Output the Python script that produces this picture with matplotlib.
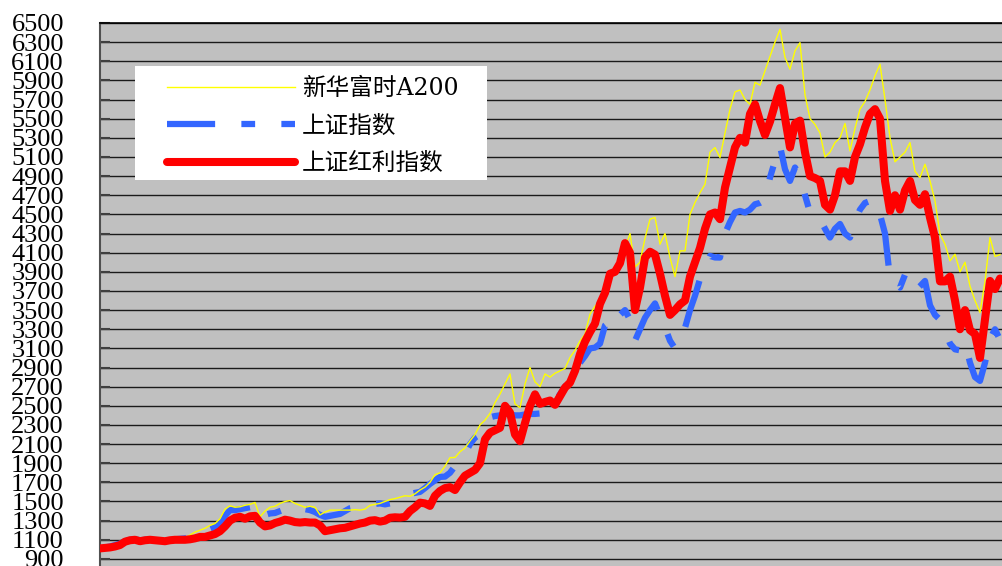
import numpy as np
import matplotlib
matplotlib.use("Agg")
import matplotlib.pyplot as plt
from matplotlib.patches import Rectangle

# 周序号 (0..180), 三个指数的走势
weeks = np.arange(181)

a200 = [1010, 1020, 1035, 1045, 1060, 1090, 1100, 1105, 1100, 1100,
        1105, 1100, 1095, 1095, 1100, 1105, 1110, 1120, 1150, 1180,
        1200, 1220, 1250, 1270, 1320, 1420, 1455, 1440, 1445, 1460,
        1470, 1490, 1340, 1400, 1440, 1450, 1480, 1500, 1510, 1480,
        1460, 1440, 1450, 1440, 1360, 1390, 1410, 1410, 1410, 1410,
        1410, 1415, 1410, 1420, 1460, 1470, 1480, 1500, 1520, 1530,
        1545, 1560, 1555, 1580, 1620, 1650, 1700, 1780, 1800, 1870,
        1958, 1960, 2020, 2060, 2133, 2200, 2300, 2350, 2420, 2533,
        2623, 2728, 2833, 2520, 2480, 2728, 2900, 2750, 2700, 2833,
        2800, 2840, 2865, 2890, 3005, 3080, 3178, 3250, 3457, 3540,
        3600, 3700, 3800, 3900, 3980, 4150, 4300, 3950, 4000, 4250,
        4450, 4470, 4188, 4300, 4049, 3850, 4119, 4119, 4500, 4624,
        4727, 4815, 5150, 5198, 5094, 5350, 5600, 5780, 5800, 5700,
        5650, 5880, 5850, 6000, 6150, 6300, 6435, 6139, 6017, 6208,
        6295, 5750, 5500, 5440, 5350, 5100, 5150, 5250, 5300, 5450,
        5163, 5400, 5600, 5680, 5800, 5950, 6069, 5700, 5300, 5050,
        5100, 5150, 5250, 4950, 4885, 5024, 4850, 4641, 4293, 4188,
        4014, 4084, 3900, 4000, 3750, 3600, 3474, 3800, 4258, 4060,
        4080]

shanghai = [1010, 1020, 1030, 1045, 1060, 1085, 1100, 1105, 1095, 1100,
            1105, 1100, 1095, 1095, 1100, 1105, 1110, 1115, 1130, 1170,
            1190, 1200, 1210, 1230, 1260, 1350, 1410, 1410, 1420, 1430,
            1440, 1450, 1330, 1360, 1375, 1380, 1400, 1420, 1440, 1450,
            1450, 1420, 1410, 1390, 1360, 1340, 1350, 1360, 1370, 1400,
            1430, 1440, 1450, 1460, 1470, 1475, 1480, 1470, 1480, 1500,
            1520, 1560, 1580, 1590, 1600, 1640, 1684, 1720, 1757, 1760,
            1800, 1870, 1945, 2000, 2100, 2168, 2200, 2310, 2380, 2393,
            2400, 2420, 2410, 2400, 2400, 2410, 2415, 2415, 2420, 2440,
            2480, 2550, 2620, 2700, 2780, 2870, 2950, 3020, 3100, 3108,
            3150, 3340, 3380, 3330, 3450, 3500, 3400, 3180, 3300, 3420,
            3500, 3570, 3440, 3320, 3180, 3100, 3200, 3315, 3500, 3650,
            3826, 3950, 4066, 4050, 4049, 4300, 4420, 4520, 4536, 4520,
            4550, 4606, 4620, 4650, 4885, 5059, 5216, 4972, 4850, 4990,
            4902, 4700, 4520, 4480, 4450, 4350, 4258, 4350, 4400, 4300,
            4258, 4432, 4550, 4620, 4640, 4650, 4500, 4300, 3830, 3780,
            3735, 3870, 3750, 3700, 3750, 3805, 3550, 3450, 3400, 3282,
            3150, 3090, 3080, 3160, 2950, 2800, 2760, 2950, 3200, 3300,
            3190]

dividend = [1010, 1015, 1020, 1030, 1045, 1080, 1095, 1100, 1085, 1095,
            1100, 1095, 1090, 1085, 1095, 1100, 1100, 1100, 1105, 1115,
            1130, 1130, 1145, 1160, 1190, 1240, 1300, 1330, 1340, 1320,
            1345, 1350, 1280, 1240, 1250, 1275, 1290, 1310, 1300, 1285,
            1280, 1285, 1280, 1280, 1250, 1190, 1200, 1210, 1220, 1225,
            1240, 1255, 1270, 1280, 1300, 1305, 1290, 1300, 1330, 1335,
            1332, 1340, 1400, 1440, 1488, 1480, 1454, 1560, 1610, 1640,
            1650, 1620, 1700, 1770, 1800, 1830, 1900, 2150, 2220, 2245,
            2270, 2500, 2430, 2200, 2130, 2320, 2500, 2620, 2520, 2540,
            2555, 2510, 2600, 2690, 2742, 2865, 3040, 3170, 3270, 3360,
            3565, 3680, 3880, 3900, 3990, 4200, 4100, 3500, 3735, 4049,
            4110, 4080, 3880, 3650, 3450, 3500, 3560, 3600, 3850, 4000,
            4150, 4350, 4500, 4520, 4450, 4780, 4990, 5200, 5300, 5250,
            5550, 5650, 5476, 5330, 5470, 5650, 5820, 5511, 5200, 5450,
            5480, 5150, 4900, 4880, 4850, 4600, 4550, 4700, 4950, 4950,
            4850, 5100, 5233, 5407, 5550, 5600, 5500, 4850, 4536, 4700,
            4550, 4750, 4850, 4650, 4600, 4711, 4467, 4258, 3800, 3800,
            3850, 3600, 3300, 3500, 3290, 3250, 3000, 3400, 3805, 3720,
            3830]

names = ['新华富时A200', '上证指数', '上证红利指数']
yticks = np.arange(900, 6501, 200)

W, H = 1002, 566
fig = plt.figure(figsize=(W / 100, H / 100), dpi=100)
ax = fig.add_axes([100 / W, 0, 1 - 100 / W, (H - 23) / H])
ax.set_facecolor('#C0C0C0')

ax.plot(weeks, a200, color='#FFFF00', lw=1.0, label=names[0], zorder=3)
ax.plot(weeks, shanghai, color='#3366FF', lw=4.5,
        linestyle=(0, (7.7, 4.2, 2.2, 4.2)), label=names[1], zorder=2)
ax.plot(weeks, dividend, color='#FF0000', lw=5.8, solid_capstyle='round',
        solid_joinstyle='round', label=names[2], zorder=4)

ax.set_xlim(0, 180.4)
ax.set_ylim(6500 - (H - 23) * 200 / 19.14, 6500)
ax.set_yticks(yticks)
ax.set_yticklabels([str(v) for v in yticks], fontfamily='Liberation Serif', fontsize=19)
ax.set_xticks([])
ax.yaxis.grid(True, color='#1a1a1a', lw=1.0)
ax.set_axisbelow(True)
ax.tick_params(axis='y', direction='in', length=7, width=1.5, color='#404040', pad=26)

ax.spines['left'].set_color('#505050')
ax.spines['left'].set_linewidth(1.5)
ax.spines['top'].set_color('black')
ax.spines['top'].set_linewidth(1.2)
ax.spines['right'].set_visible(False)
ax.spines['bottom'].set_visible(False)

# 图例白色底框
box = Rectangle((135 / W, 1 - 180 / H), (487 - 135) / W, (180 - 66) / H,
                transform=fig.transFigure, facecolor='white', edgecolor='none',
                zorder=4.6, clip_on=False)
ax.add_patch(box)

leg = ax.legend(loc='upper left', bbox_to_anchor=(167 / W, 1 - 77 / H),
                bbox_transform=fig.transFigure, frameon=False,
                prop={'family': ['DejaVu Serif', 'Noto Sans CJK SC'], 'size': 17},
                handlelength=5.4, handletextpad=0.3, labelspacing=0.62,
                borderpad=0, borderaxespad=0)
leg.set_zorder(5)

fig.savefig('out.png', dpi=100)
